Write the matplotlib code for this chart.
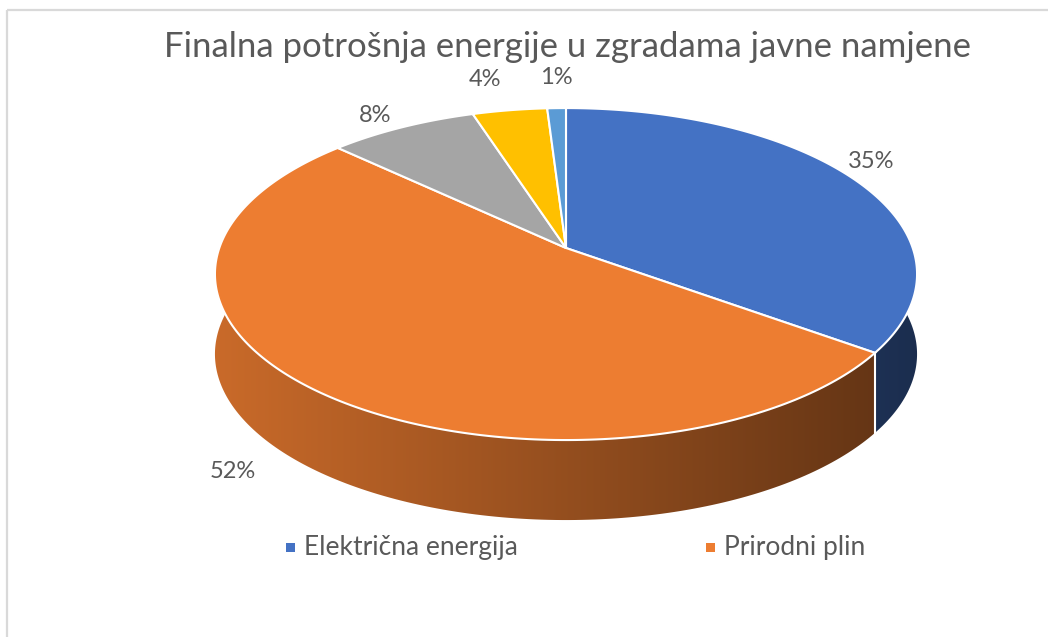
import numpy as np
import matplotlib.pyplot as plt
from matplotlib.patches import Polygon, Rectangle
from matplotlib.colors import to_rgb

# data
title = "Finalna potrošnja energije u zgradama javne namjene"
shares = [35, 52, 8, 4, 1]
pct_labels = ["35%", "52%", "8%", "4%", "1%"]
legend_labels = ["Električna energija", "Prirodni plin"]
colors = ["#4472C4", "#ED7D31", "#A5A5A5", "#FFC000", "#5B9BD5"]

# layout (pixels)
W, H = 1048, 637
cx, cy = 566, 248          # projected pie centre
A, B, k = 346.7, 161.9, 0.157  # ellipse radii + perspective factor
depth = 80
label_pos = [(871, 162), (233, 471), (375, 115), (485, 80), (556, 78)]
text_col = "#595959"
font = "Lato"


def proj(theta, r=1.0):
    t = np.radians(theta)
    u, v = r * np.cos(t), r * np.sin(t)
    w = 1 + k * v
    return cx + A * u / w, cy - B * v / w


fig = plt.figure(figsize=(W / 100, H / 100), dpi=100)
ax = fig.add_axes([0, 0, 1, 1])
ax.set_xlim(0, W)
ax.set_ylim(H, 0)
ax.axis("off")

# chart border
ax.add_patch(Rectangle((6.5, 9.5), 1200, 800, fill=False, edgecolor="#d9d9d9", lw=1.6, zorder=0))

fracs = np.array(shares, dtype=float) / sum(shares)
bounds = 90 - 360 * np.concatenate([[0], np.cumsum(fracs)])

# side walls with shading along x
xs = np.arange(W)
shade = np.clip(0.85 - 0.45 * (xs - 215) / 702, 0.35, 0.9)
for i, c in enumerate(colors):
    ts = np.linspace(bounds[i], bounds[i + 1], 200)
    x, y = proj(ts)
    pts = np.column_stack([np.r_[x, x[::-1]], np.r_[y, y[::-1] + depth]])
    poly = Polygon(pts, closed=True, facecolor="none", edgecolor="none", transform=ax.transData)
    ax.add_patch(poly)
    img = np.tile((np.array(to_rgb(c))[None, :] * shade[:, None])[None, :, :], (2, 1, 1))
    im = ax.imshow(img, extent=[0, W, H, 0], aspect="auto", zorder=1, interpolation="bilinear")
    im.set_clip_path(poly)

ax.set_xlim(0, W)
ax.set_ylim(H, 0)

# white seams on the visible side
for b in bounds[:-1]:
    if np.sin(np.radians(b)) < -k:
        x, y = proj(b)
        ax.plot([x, x], [y, y + depth], color="white", lw=1.5, zorder=2)

# top faces
for i, c in enumerate(colors):
    ts = np.linspace(bounds[i], bounds[i + 1], 200)
    x, y = proj(ts)
    pts = np.column_stack([np.r_[cx, x], np.r_[cy, y]])
    ax.add_patch(Polygon(pts, closed=True, facecolor=c, edgecolor="white", lw=1.5, zorder=3))

# percentage labels
for (lx, ly), t in zip(label_pos, pct_labels):
    ax.text(lx, ly, t, ha="center", va="center", fontsize=17, color=text_col, family=font, zorder=4)

ax.text(568, 47, title, ha="center", va="center", fontsize=25, color=text_col, family=font)

# legend
leg_x = [290, 710]
for lx, lab, c in zip(leg_x, legend_labels, colors):
    ax.add_patch(Rectangle((lx - 4.5, 542.5), 9, 9, facecolor=c, edgecolor="none"))
    ax.text(lx + 14, 547, lab, ha="left", va="center", fontsize=19, color=text_col, family=font)

fig.savefig("out.png", dpi=100)
